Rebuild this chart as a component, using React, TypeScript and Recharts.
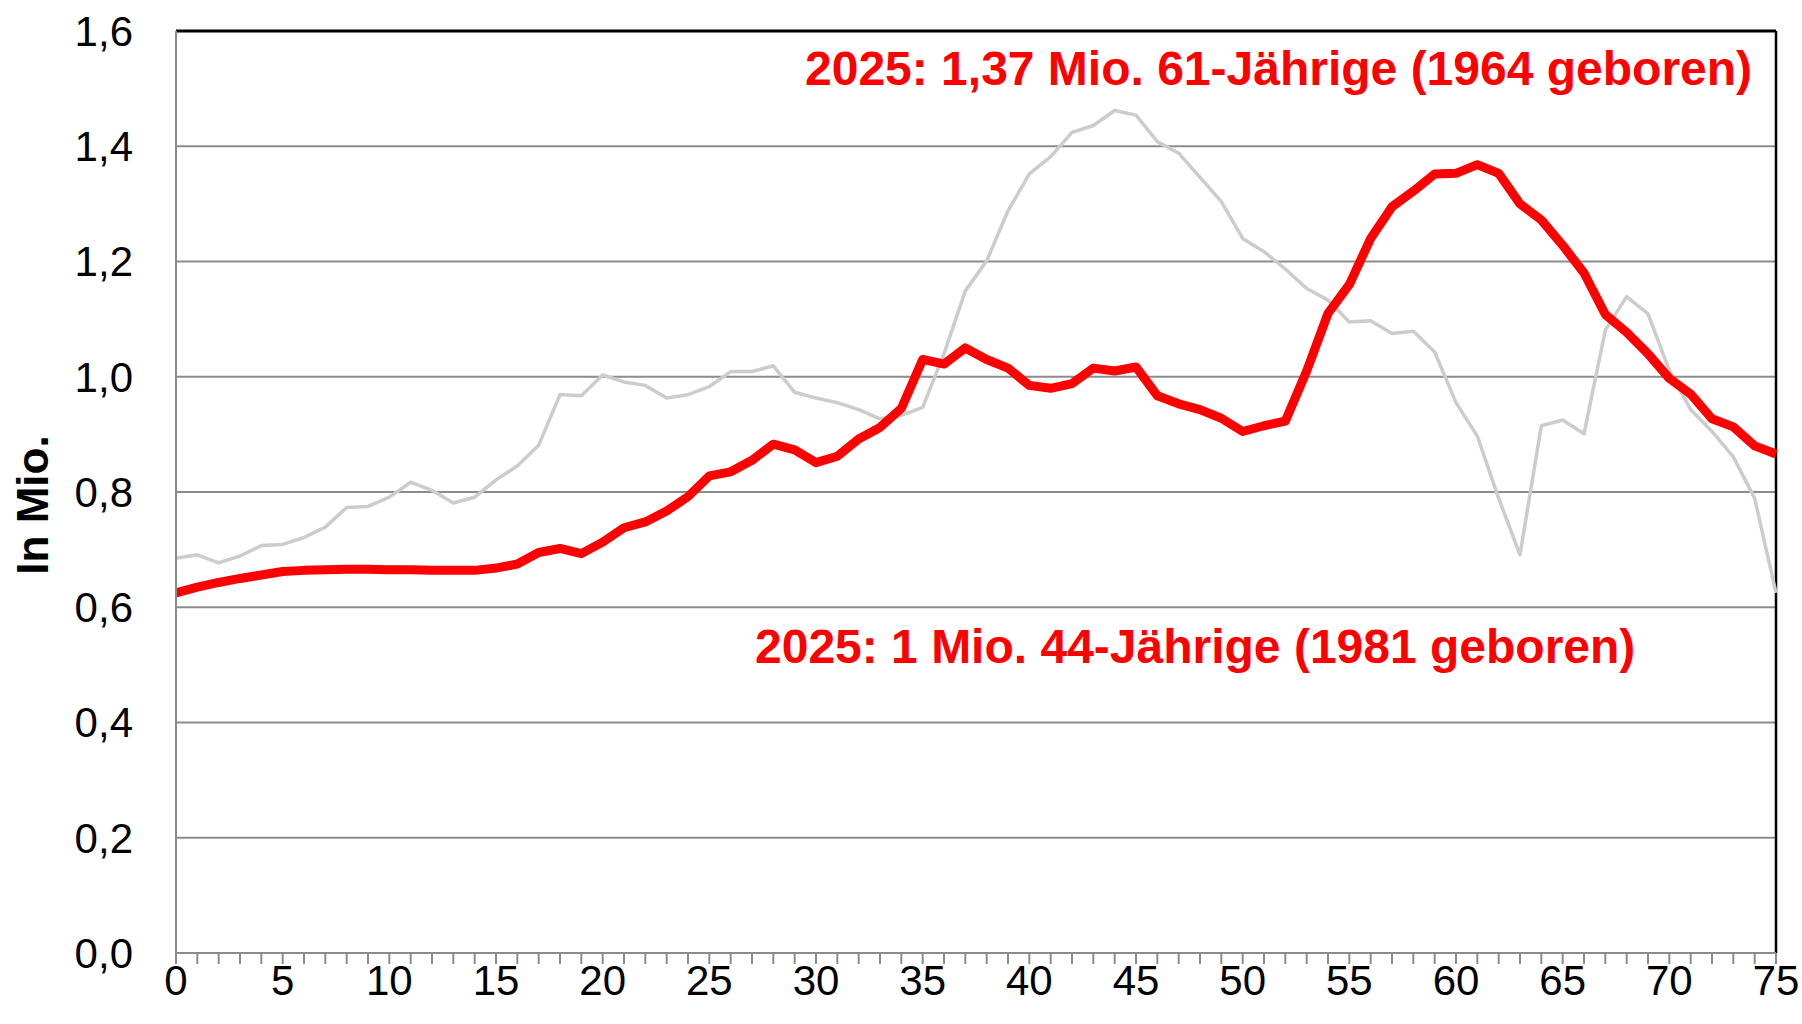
import React from 'react';
import {LineChart, Line, XAxis, YAxis, CartesianGrid, ReferenceLine} from 'recharts';

// Alter in Jahren (0 bis 75)
const ages: number[] = Array.from({length: 76}, (_, i) => i);

// Bevölkerung 2025 nach Alter, in Mio.
const pop2025: number[] = [
    0.625, 0.635, 0.643, 0.650, 0.656, 0.662, 0.664, 0.665, 0.666, 0.666,
    0.665, 0.665, 0.664, 0.664, 0.664, 0.668, 0.675, 0.695, 0.702, 0.693,
    0.713, 0.738, 0.748, 0.767, 0.792, 0.828, 0.835, 0.855, 0.883, 0.873,
    0.851, 0.862, 0.892, 0.912, 0.945, 1.030, 1.022, 1.050, 1.030, 1.015,
    0.985, 0.980, 0.988, 1.015, 1.010, 1.017, 0.967, 0.953, 0.943, 0.928,
    0.905, 0.915, 0.923, 1.010, 1.110, 1.160, 1.240, 1.295, 1.322, 1.352,
    1.353, 1.368, 1.353, 1.300, 1.272, 1.228, 1.180, 1.108, 1.077, 1.040,
    0.997, 0.970, 0.927, 0.913, 0.880, 0.866,
];

// Vergleichsjahr (graue Linie), in Mio.
const popCompare: number[] = [
    0.685, 0.691, 0.677, 0.689, 0.707, 0.709, 0.721, 0.739, 0.773, 0.775,
    0.791, 0.817, 0.803, 0.781, 0.791, 0.821, 0.845, 0.881, 0.969, 0.967,
    1.003, 0.991, 0.985, 0.963, 0.969, 0.983, 1.009, 1.009, 1.019, 0.973,
    0.963, 0.955, 0.943, 0.927, 0.933, 0.947, 1.040, 1.149, 1.201, 1.288,
    1.352, 1.382, 1.424, 1.436, 1.462, 1.454, 1.408, 1.388, 1.346, 1.304,
    1.240, 1.217, 1.187, 1.153, 1.133, 1.095, 1.097, 1.075, 1.079, 1.043,
    0.955, 0.897, 0.789, 0.691, 0.915, 0.925, 0.901, 1.081, 1.139, 1.109,
    1.011, 0.943, 0.905, 0.861, 0.789, 0.625,
];

const yTicks: number[] = [0, 0.2, 0.4, 0.6, 0.8, 1.0, 1.2, 1.4, 1.6];

const data = ages.map((a, i) => ({age: a, y2025: pop2025[i], cmp: popCompare[i]}));

const FONT = '"Liberation Sans", Arial, sans-serif';
const GRID = '#8c8c8c';

const App: React.FunctionComponent = () => {
    return (
        <div style={{position: 'absolute', left: 0, top: 0, width: 1802, height: 1024, background: '#fff'}}>
            <LineChart width={1802} height={1024} data={data}
                       margin={{top: 31, right: 26, bottom: 0, left: 0}}>
                <CartesianGrid vertical={false} stroke={GRID} strokeWidth={2}/>
                <XAxis dataKey="age" type="number" domain={[0, 75]} ticks={ages} interval={0}
                       height={71} tickSize={11} tickMargin={1}
                       axisLine={{stroke: GRID, strokeWidth: 2}}
                       tickLine={{stroke: GRID, strokeWidth: 2}}
                       tickFormatter={(v: number) => (v % 5 === 0 ? String(v) : '')}
                       tick={{fontSize: 42, fill: '#000', fontFamily: FONT}}/>
                <YAxis type="number" domain={[0, 1.6]} ticks={yTicks} interval={0}
                       width={176} tickSize={0} tickMargin={43} tickLine={false}
                       axisLine={{stroke: GRID, strokeWidth: 2}}
                       tickFormatter={(v: number) => v.toFixed(1).replace('.', ',')}
                       tick={{fontSize: 42, fill: '#000', fontFamily: FONT}}/>
                <ReferenceLine y={1.6} stroke="#000" strokeWidth={3}/>
                <ReferenceLine x={75} stroke="#000" strokeWidth={2.5}/>
                <Line type="linear" dataKey="cmp" stroke="#cccccc" strokeWidth={3.5}
                      dot={false} isAnimationActive={false} strokeLinejoin="round"/>
                <Line type="linear" dataKey="y2025" stroke="#ff0000" strokeWidth={9}
                      dot={false} isAnimationActive={false} strokeLinejoin="round"/>
            </LineChart>
            <svg width={1802} height={1024} style={{position: 'absolute', left: 0, top: 0, pointerEvents: 'none'}}>
                <text x={805} y={85} fill="#ff0000" fontSize={48} fontWeight="bold" fontFamily={FONT}>
                    2025: 1,37 Mio. 61-Jährige (1964 geboren)
                </text>
                <text x={755} y={663} fill="#ff0000" fontSize={48} fontWeight="bold" fontFamily={FONT}>
                    2025: 1 Mio. 44-Jährige (1981 geboren)
                </text>
                <text transform="translate(48,505) rotate(-90)" textAnchor="middle" fill="#000"
                      fontSize={44} fontWeight="bold" fontFamily={FONT}>
                    In Mio.
                </text>
            </svg>
        </div>
    );
};

export default App;
